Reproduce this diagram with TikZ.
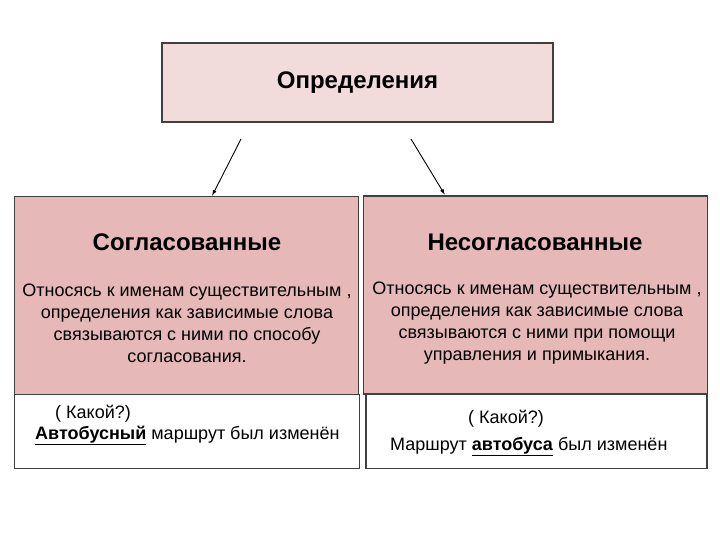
\documentclass[tikz,border=0pt]{standalone}
\usepackage{fontspec}
\setmainfont{Liberation Sans}
\usetikzlibrary{arrows.meta}
\tikzset{>={Latex[length=6pt,width=4pt]}}
\definecolor{palepink}{HTML}{F2DCDB}
\definecolor{rosepink}{HTML}{E6B9B8}
\definecolor{framegray}{HTML}{404040}
\newcommand{\heavyul}[1]{\leavevmode\vtop{\hbox{#1}\kern1.2pt\hrule height 1.3pt}}

\begin{document}
\begin{tikzpicture}[x=1pt,y=-1pt,
        box/.style={draw=framegray,line width=1.2pt,inner sep=0pt},
        headbox/.style={box,fill=palepink,minimum width=391pt,minimum height=79pt,
            font=\fontsize{24}{28}\selectfont\bfseries},
        kindbox/.style={box,fill=rosepink,minimum width=344pt,minimum height=198pt},
        examplebox/.style={box,fill=white,minimum height=74pt},
        kindtitle/.style={anchor=base,inner sep=0pt,font=\fontsize{24}{28}\selectfont\bfseries},
        kindtext/.style={inner sep=0pt,align=center,font=\fontsize{18}{22}\selectfont},
        exampletext/.style={anchor=base west,inner sep=0pt,font=\fontsize{18}{21}\selectfont}]
    \useasboundingbox (0,0) rectangle (720,540);

    % Header
    \node[headbox] (defs) at (357.5,82.5) {Определения};

    % Kinds
    \node[kindbox] (agreed) at (186.5,295.5) {};
    \node[kindbox] (unagreed) at (535.5,295) {};
    \node[examplebox,minimum width=345pt] (agreedex) at (187,431.5) {};
    \node[examplebox,minimum width=341pt] (unagreedex) at (536.5,431.5) {};

    \node[kindtitle] (agreedtitle) at (187,250) {Согласованные};
    \node[kindtitle] (unagreedtitle) at (535,250) {Несогласованные};
    \node[kindtext] (agreedtext) at (187,323) {Относясь к именам существительным ,\\
        определения как зависимые слова\\связываются с ними по способу\\согласования.};
    \node[kindtext] (unagreedtext) at (537,323) {Относясь к именам существительным ,\\
        определения как зависимые слова\\связываются с ними при помощи\\управления и примыкания.};

    % Examples
    \node[exampletext] (agreedq) at (55,418) {( Какой?)};
    \node[exampletext] (agreedsent) at (35,439) {\heavyul{\textbf{Автобусный}} маршрут был изменён};
    \node[exampletext] (unagreedq) at (468,423) {( Какой?)};
    \node[exampletext] (unagreedsent) at (390,450) {Маршрут \heavyul{\textbf{автобуса}} был изменён};

    % Arrows
    \coordinate (lstart) at (241,139);
    \coordinate (rstart) at (411,139);
    \draw[->,line width=0.9pt] (lstart) -- (212,196);
    \draw[->,line width=0.9pt] (rstart) -- (445,195);
\end{tikzpicture}
\end{document}
